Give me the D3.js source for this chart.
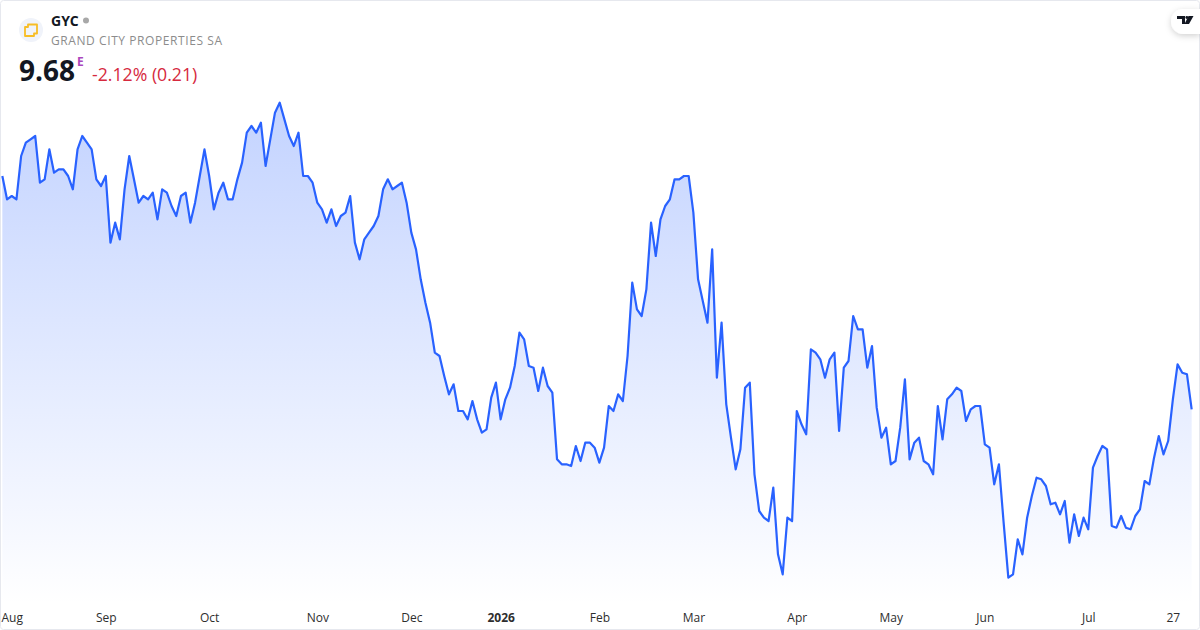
<!DOCTYPE html>
<html>
<head>
<meta charset="utf-8">
<script src="https://cdn.jsdelivr.net/npm/d3@7"></script>
<style>
  html, body { margin: 0; padding: 0; background: #fff; }
  svg { display: block; font-family: "Open Sans", sans-serif; }
  .axis text { font-size: 12px; fill: #2e2e2e; }
</style>
</head>
<body>
<div id="chart"></div>
<script>
const closeAug = [11.08,10.94,10.96,10.94,11.20,11.28,11.30,11.32,11.04,11.06,11.24,11.10,11.12,11.12,11.08,11.00,11.24,11.32,11.28,11.24,11.06,11.02,11.08,10.68,10.80,10.70,11.00,11.20,11.06,10.92,10.96,10.94,10.98,10.82,11.00,10.98,10.90,10.84,10.96,10.98,10.80,10.92,11.08,11.24,11.08,10.88,10.98,11.04,10.94,10.94,11.06,11.16,11.34,11.38,11.34,11.40,11.14,11.30,11.46,11.52,11.42,11.32,11.26,11.34];
const closeOct = [11.08,11.08,11.04,10.92,10.88,10.80,10.88,10.78,10.84,10.86,10.96,10.68,10.58,10.70,10.74,10.78,10.84,11.00,11.06,11.00,11.02,11.04,10.92,10.74,10.64,10.46,10.32,10.20,10.02,10.00,9.88,9.77,9.83,9.67,9.67,9.62,9.73,9.62,9.54,9.56,9.75,9.84,9.62,9.74,9.81,9.94,10.14,10.10,9.94,9.93,9.79,9.93,9.82,9.78,9.38,9.35,9.35,9.34,9.46,9.37,9.48,9.48,9.45,9.36];
const closeFeb = [9.45,9.70,9.67,9.77,9.73,10.00,10.44,10.28,10.24,10.40,10.80,10.60,10.82,10.90,10.94,11.06,11.06,11.08,11.08,10.86,10.46,10.33,10.20,10.64,9.87,10.20,9.71,9.51,9.32,9.44,9.81,9.84,9.29,9.07,9.03,9.01,9.21,8.81,8.69,9.03,9.01,9.67,9.59,9.53,10.04,10.02,9.98,9.87,9.98,10.02,9.55,9.93,9.97,10.24,10.16];
const closeMay = [10.16,9.93,10.06,9.69,9.51,9.57,9.35,9.37,9.57,9.86,9.38,9.48,9.51,9.37,9.35,9.29,9.70,9.50,9.74,9.77,9.81,9.79,9.61,9.68,9.70,9.70,9.47,9.45,9.23,9.35,9.00,8.67,8.69,8.90,8.81,9.03,9.16,9.27,9.26,9.22,9.11,9.12,9.05,9.13,8.88,9.05,8.92,9.03,8.96,9.33,9.40,9.46,9.44,8.98,8.97,9.04,8.97,8.96,9.04,9.08,9.25,9.23,9.39,9.52,9.41,9.49,9.74,9.95,9.90,9.89,9.68];

const tickLabels = ['Aug','Sep','Oct','Nov','Dec','2026','Feb','Mar','Apr','May','Jun','Jul','27'];
const tickBars = [2,22,44,67,87,106,127,147,169,189,209,231,249];

const closes = closeAug.concat(closeOct, closeFeb, closeMay);

const width = 1200, height = 630;

const svg = d3.select('#chart').append('svg')
  .attr('width', width)
  .attr('height', height);

const x = d3.scaleLinear().domain([0, closes.length - 1]).range([2.33, 1191.67]);
const y = d3.scaleLinear().domain([8.67, 11.52]).range([577.67, 102.67]);

/* card border */
svg.append('rect')
  .attr('x', 0.5).attr('y', 0.5)
  .attr('width', width - 1).attr('height', height - 1)
  .attr('rx', 3)
  .attr('fill', '#fff')
  .attr('stroke', '#e6e8ee');

const defs = svg.append('defs');

const grad = defs.append('linearGradient')
  .attr('id', 'fade')
  .attr('gradientUnits', 'userSpaceOnUse')
  .attr('x1', 0).attr('x2', 0)
  .attr('y1', y(11.52)).attr('y2', 605);
grad.append('stop').attr('offset', 0).attr('stop-color', '#2962ff').attr('stop-opacity', 0.28);
grad.append('stop').attr('offset', 1).attr('stop-color', '#2962ff').attr('stop-opacity', 0);

const shadow = defs.append('filter')
  .attr('id', 'pill-shadow')
  .attr('x', '-40%').attr('y', '-60%')
  .attr('width', '180%').attr('height', '220%');
shadow.append('feDropShadow')
  .attr('dx', 0).attr('dy', 2)
  .attr('stdDeviation', 3)
  .attr('flood-color', '#000')
  .attr('flood-opacity', 0.18);

/* area + line */
svg.append('path')
  .datum(closes)
  .attr('fill', 'url(#fade)')
  .attr('d', d3.area().x((d, i) => x(i)).y0(605).y1(d => y(d)));

svg.append('path')
  .datum(closes)
  .attr('fill', 'none')
  .attr('stroke', '#2962ff')
  .attr('stroke-width', 2.2)
  .attr('stroke-linejoin', 'round')
  .attr('d', d3.line().x((d, i) => x(i)).y(d => y(d)));

/* time axis */
const axis = svg.append('g')
  .attr('class', 'axis')
  .attr('transform', 'translate(0,605)')
  .call(d3.axisBottom(x)
    .tickValues(tickBars)
    .tickSize(0)
    .tickPadding(8)
    .tickFormat((d, i) => tickLabels[i]));
axis.select('.domain').remove();
axis.selectAll('text')
  .style('font-family', '"Open Sans", sans-serif')
  .attr('font-weight', (d, i) => tickLabels[i] === '2026' ? 700 : 400);

/* header */
const logo = svg.append('g').attr('transform', 'translate(31,30)');
logo.append('circle').attr('r', 12).attr('fill', '#f0f3fa');
logo.append('path')
  .attr('d', 'M-3 -5.5H6V3.5H3V6H-6V-3H-3Z')
  .attr('fill', 'none')
  .attr('stroke', '#f7bd25')
  .attr('stroke-width', 1.8)
  .attr('stroke-linejoin', 'round');

svg.append('text')
  .attr('x', 51).attr('y', 26)
  .attr('font-size', 14).attr('font-weight', 700).attr('fill', '#131722')
  .text('GYC');
svg.append('circle').attr('cx', 86).attr('cy', 20.5).attr('r', 3).attr('fill', '#a8a8a8');
svg.append('text')
  .attr('x', 51).attr('y', 45)
  .attr('font-size', 12).attr('letter-spacing', 0.58).attr('fill', '#8c8c8c')
  .text('GRAND CITY PROPERTIES SA');

svg.append('text')
  .attr('x', 19).attr('y', 81)
  .attr('font-size', 28).attr('font-weight', 700).attr('fill', '#131722')
  .text('9.68');
svg.append('text')
  .attr('x', 77).attr('y', 66)
  .attr('font-size', 12).attr('font-weight', 700).attr('fill', '#ab47bc')
  .text('E');
svg.append('text')
  .attr('x', 92).attr('y', 81)
  .attr('font-size', 17.7).attr('fill', '#d6293e')
  .text('-2.12% (0.21)');

/* logo pill, top right */
const pill = svg.append('g').attr('transform', 'translate(1171,9)');
pill.append('path')
  .attr('d', 'M12 0H29V25H12A12 12.5 0 0 1 12 0Z')
  .attr('fill', '#fff')
  .attr('filter', 'url(#pill-shadow)');
pill.append('path')
  .attr('d', 'M6 7H14V15H11V10H6ZM17.5 7H22.5L18 15H13.5Z')
  .attr('fill', '#131722');
pill.append('circle').attr('cx', 15.8).attr('cy', 8.5).attr('r', 1.4).attr('fill', '#131722');
</script>
</body>
</html>
